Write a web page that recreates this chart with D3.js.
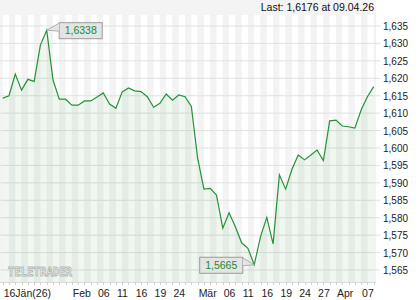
<!DOCTYPE html>
<html>
<head>
<meta charset="utf-8">
<script src="https://cdn.jsdelivr.net/npm/d3@7"></script>
<style>
  body { margin: 0; background: #fff; }
  text { font-family: "Liberation Sans", Arial, sans-serif; }
</style>
</head>
<body>
<div id="chart"></div>
<script>
// trading days
let dates = [
    "2026-01-16", "2026-01-19", "2026-01-20", "2026-01-21", "2026-01-22", "2026-01-23",
    "2026-01-26", "2026-01-27", "2026-01-28", "2026-01-29", "2026-01-30",
    "2026-02-02", "2026-02-03", "2026-02-04", "2026-02-05", "2026-02-06",
    "2026-02-09", "2026-02-10", "2026-02-11", "2026-02-12", "2026-02-13",
    "2026-02-16", "2026-02-17", "2026-02-18", "2026-02-19", "2026-02-20",
    "2026-02-23", "2026-02-24", "2026-02-25", "2026-02-26", "2026-02-27",
    "2026-03-02", "2026-03-03", "2026-03-04", "2026-03-05", "2026-03-06",
    "2026-03-09", "2026-03-10", "2026-03-11", "2026-03-12", "2026-03-13",
    "2026-03-16", "2026-03-17", "2026-03-18", "2026-03-19", "2026-03-20",
    "2026-03-23", "2026-03-24", "2026-03-25", "2026-03-26", "2026-03-27",
    "2026-03-30", "2026-03-31", "2026-04-01", "2026-04-02", "2026-04-03",
    "2026-04-06", "2026-04-07", "2026-04-08", "2026-04-09"
];

// closing values
let values = [
    1.6143, 1.6150, 1.6212, 1.6166, 1.6197, 1.6191,
    1.6296, 1.6338, 1.6195, 1.6140, 1.6140,
    1.6123, 1.6123, 1.6135, 1.6135, 1.6146,
    1.6158, 1.6126, 1.6114, 1.6161, 1.6172,
    1.6164, 1.6162, 1.6147, 1.6117, 1.6128,
    1.6155, 1.6137, 1.6152, 1.6147, 1.6119,
    1.5971, 1.5882, 1.5884, 1.5865, 1.5770,
    1.5814, 1.5774, 1.5728, 1.5712, 1.5665,
    1.5746, 1.5801, 1.5725, 1.5923, 1.5882,
    1.5939, 1.5980, 1.5966, 1.5980, 1.5994,
    1.5964, 1.6078, 1.6080, 1.6063, 1.6061,
    1.6057, 1.6109, 1.6147, 1.6176
];

// x tick labels
let tickDates  = ["2026-01-16", "2026-02-02", "2026-02-06", "2026-02-11", "2026-02-16", "2026-02-19", "2026-02-24",
                  "2026-03-02", "2026-03-06", "2026-03-11", "2026-03-16", "2026-03-19", "2026-03-24", "2026-03-27",
                  "2026-04-01", "2026-04-07"];
let tickLabels = ["16Jän(26)", "Feb", "06", "11", "16", "19", "24",
                  "Mär", "06", "11", "16", "19", "24", "27",
                  "Apr", "07"];

// y ticks
let yTicks = [1.565, 1.570, 1.575, 1.580, 1.585, 1.590, 1.595, 1.600,
              1.605, 1.610, 1.615, 1.620, 1.625, 1.630, 1.635];

let width = 420;
let height = 300;
let plotLeft = 0, plotRight = 376, plotTop = 15, plotBottom = 282;

let locale = d3.formatLocale({decimal: ",", thousands: ".", grouping: [3], currency: ["", ""]});
let fmt3 = locale.format(".3f");
let fmt4 = locale.format(".4f");

let svg = d3.select("#chart")
    .append("svg")
    .attr("width", width)
    .attr("height", height);

let x = d3.scalePoint()
    .domain(dates)
    .range([2.7, 373.7]);

let y = d3.scaleLinear()
    .domain([1.565, 1.635])
    .range([270, 26]);

// top band
svg.append("rect")
    .attr("x", 0).attr("y", 0)
    .attr("width", plotRight).attr("height", plotTop)
    .attr("fill", "#f4f4f4");

// background stripes, one per day
svg.append("rect")
    .attr("x", plotLeft).attr("y", plotTop)
    .attr("width", plotRight - plotLeft).attr("height", plotBottom - plotTop)
    .attr("fill", "#f3f3f3");

svg.append("g").selectAll("rect")
    .data(dates.slice(0, -1))
    .enter()
    .append("rect")
    .attr("x", d => x(d))
    .attr("y", plotTop)
    .attr("width", x.step())
    .attr("height", plotBottom - plotTop)
    .attr("fill", (d, i) => i % 2 === 0 ? "#ffffff" : "#f3f3f3");

// grid lines
svg.append("g").selectAll("line")
    .data(yTicks)
    .enter()
    .append("line")
    .attr("x1", plotLeft).attr("x2", 380)
    .attr("y1", d => y(d)).attr("y2", d => y(d))
    .attr("stroke", "#e1e1e1")
    .attr("stroke-width", 1);

// area under line
let area = d3.area()
    .x((d, i) => x(dates[i]))
    .y0(plotBottom)
    .y1(d => y(d));

svg.append("path")
    .datum(values)
    .attr("d", area)
    .attr("fill", "rgba(70,140,60,0.08)");

// logo watermark
svg.append("text")
    .attr("x", 8).attr("y", 275.5)
    .attr("textLength", 64)
    .attr("lengthAdjust", "spacingAndGlyphs")
    .style("font-family", "DejaVu Sans Mono")
    .style("font-weight", "bold")
    .style("font-size", "13px")
    .attr("fill", "#ffffff")
    .attr("stroke", "#b4b8b2")
    .attr("stroke-width", 1)
    .text("TELETRADER");

// price line
let line = d3.line()
    .x((d, i) => x(dates[i]))
    .y(d => y(d));

svg.append("path")
    .datum(values)
    .attr("d", line)
    .attr("fill", "none")
    .attr("stroke", "#23933a")
    .attr("stroke-width", 1.2);

// x axis
svg.append("line")
    .attr("x1", plotLeft).attr("x2", plotRight)
    .attr("y1", plotBottom + 0.5).attr("y2", plotBottom + 0.5)
    .attr("stroke", "#dcdcdc");

svg.append("g").selectAll("line")
    .data(dates)
    .enter()
    .append("line")
    .attr("x1", d => Math.round(x(d)) + 0.5).attr("x2", d => Math.round(x(d)) + 0.5)
    .attr("y1", plotBottom).attr("y2", plotBottom + 3)
    .attr("stroke", "#cfcfcf");

svg.append("g").selectAll("text")
    .data(tickDates)
    .enter()
    .append("text")
    .attr("x", d => x(d) + 1)
    .attr("y", 297)
    .attr("fill", "#222")
    .style("font-size", "10.5px")
    .text((d, i) => tickLabels[i]);

// y axis labels on the right
svg.append("g").selectAll("text")
    .data(yTicks)
    .enter()
    .append("text")
    .attr("x", 383)
    .attr("y", d => y(d) + 4)
    .attr("fill", "#222")
    .style("font-size", "10px")
    .text(d => fmt3(d));

// last value header
svg.append("text")
    .attr("x", 374).attr("y", 11)
    .attr("text-anchor", "end")
    .attr("fill", "#111")
    .style("font-size", "10.5px")
    .text("Last: " + fmt4(values[values.length - 1]) + " at 09.04.26");

// high / low callouts
function callout(i, side) {
    let px = x(dates[i]), py = y(values[i]);
    let bw = 43, bh = 16;
    let bx = side === "right" ? px + 12 : px - 12 - bw;
    let by = py - 8;
    let ex = side === "right" ? bx : bx + bw;
    let g = svg.append("g");
    g.append("rect")
        .attr("x", bx + 0.5).attr("y", by + 0.5)
        .attr("width", bw).attr("height", bh)
        .attr("fill", "#e4e4e4")
        .attr("stroke", "#9c9c9c");
    g.append("path")
        .attr("d", `M${px},${py} L${ex + 0.5},${by + 1} L${ex + 0.5},${by + 9} Z`)
        .attr("fill", "#e4e4e4");
    g.append("path")
        .attr("d", `M${ex + 0.5},${by + 1} L${px},${py} L${ex + 0.5},${by + 9}`)
        .attr("fill", "none")
        .attr("stroke", "#b0b0b0");
    g.append("text")
        .attr("x", bx + bw / 2 + 0.5)
        .attr("y", by + 12)
        .attr("text-anchor", "middle")
        .attr("fill", "#1f8a36")
        .style("font-size", "10.5px")
        .text(fmt4(values[i]));
}

let hi = d3.maxIndex(values);
let lo = d3.minIndex(values);
callout(hi, "right");
callout(lo, "left");
</script>
</body>
</html>
